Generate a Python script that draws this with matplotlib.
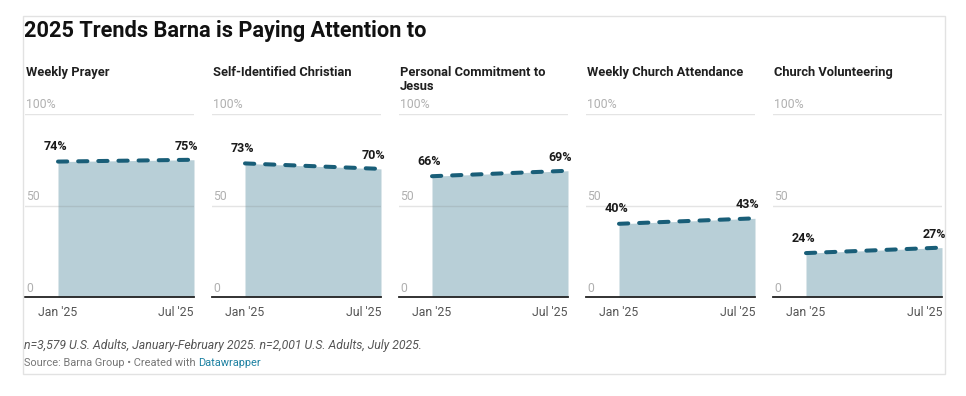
import matplotlib.pyplot as plt
from matplotlib.patches import Rectangle

plt.rcParams['font.family'] = ['Roboto', 'DejaVu Sans']

titles = ['Weekly Prayer', 'Self-Identified Christian', 'Personal Commitment to\nJesus',
          'Weekly Church Attendance', 'Church Volunteering']
jan_values = [74, 73, 66, 40, 24]
jul_values = [75, 70, 69, 43, 27]
x_labels = ["Jan '25", "Jul '25"]

W, H = 966, 396
fig = plt.figure(figsize=(W / 100, H / 100), dpi=100)


def fx(px):
    return px / W


def fy(py):
    return 1 - py / H


# outer border
fig.patches.append(Rectangle((fx(23), fy(374)), fx(922), 358 / H, transform=fig.transFigure,
                             fill=False, edgecolor='#e2e2e2', linewidth=1))

fig.text(fx(24), fy(31), '2025 Trends Barna is Paying Attention to', fontsize=15.7,
         fontweight='bold', va='center', ha='left', color='#111111')

fill_col = '#b8cfd7'
line_col = '#195e78'

for i in range(5):
    left = 25 + i * 187
    ax = fig.add_axes([fx(left), fy(297), fx(169), 183 / H])
    xs = [0, 1]
    ys = [jan_values[i], jul_values[i]]
    ax.set_xlim(-33 / 136, 1)
    ax.set_ylim(0, 100)
    ax.fill_between(xs, 0, ys, color=fill_col, linewidth=0, zorder=1)
    ax.plot(xs, ys, color=line_col, linewidth=2.9, dashes=(2.3, 2.7),
            solid_capstyle='round', dash_capstyle='round', zorder=3)
    for g in [50, 100]:
        ax.axhline(g, color='#7a7a7a', alpha=0.2, linewidth=1, zorder=2)
    ax.axhline(0, color='#222222', linewidth=1.3, zorder=4, clip_on=False)
    for g, lab in [(100, '100%'), (50, '50'), (0, '0')]:
        ax.annotate(lab, (0, g), xycoords=('axes fraction', 'data'), xytext=(1, 1.8),
                    textcoords='offset points', ha='left', va='bottom', fontsize=8.8,
                    color='#b0b0b0')
    ax.annotate(f'{jan_values[i]}%', (0, jan_values[i]), xytext=(-2, 6),
                textcoords='offset points', ha='center', va='bottom', fontsize=9,
                fontweight='bold', color='#1a1a1a')
    ax.annotate(f'{jul_values[i]}%', (1, jul_values[i]), xytext=(3, 5),
                textcoords='offset points', ha='right', va='bottom', fontsize=9,
                fontweight='bold', color='#1a1a1a')
    ax.annotate(x_labels[0], (0, 0), xytext=(0, -6.5), textcoords='offset points',
                ha='center', va='top', fontsize=8.8, color='#555555', annotation_clip=False)
    ax.annotate(x_labels[1], (1, 0), xytext=(0, -6.5), textcoords='offset points',
                ha='right', va='top', fontsize=8.8, color='#555555', annotation_clip=False)
    ax.axis('off')
    fig.text(fx(left + 1), fy(66), titles[i], fontsize=9.3, fontweight='bold',
             va='top', ha='left', color='#1f1f1f', linespacing=1.1)

fig.text(fx(24), fy(345), 'n=3,579 U.S. Adults, January-February 2025. n=2,001 U.S. Adults, July 2025.',
         fontsize=8.8, style='italic', color='#555555', va='center', ha='left')
src = fig.text(fx(24), fy(363), 'Source: Barna Group \u2022 Created with ', fontsize=7.9,
               color='#777777', va='center', ha='left')
fig.canvas.draw()
bb = src.get_window_extent()
fig.text(bb.x1 / W, fy(363), 'Datawrapper', fontsize=7.9, color='#1d81a2', va='center', ha='left')

fig.savefig('out.png', dpi=100)
